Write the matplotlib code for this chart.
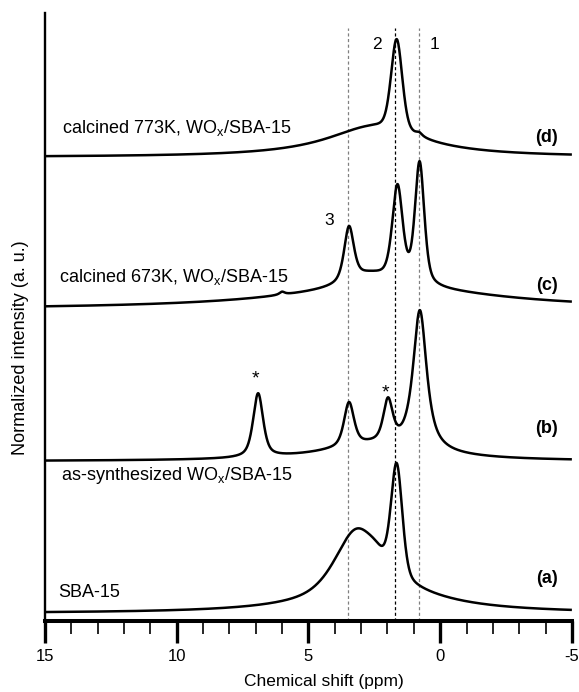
import numpy as np
import matplotlib
matplotlib.use("Agg")
import matplotlib.pyplot as plt
from matplotlib.ticker import MultipleLocator

plt.rcParams['font.family'] = ['Liberation Sans', 'DejaVu Sans']

# Chemical-shift grid (ppm)
shift = np.linspace(15, -5, 2500)

# Peak parameters per spectrum: centre (ppm), height, FWHM (ppm), Lorentzian fraction
sba15_centers = [3.2, 1.65, 2.3, 2.45]
sba15_heights = [0.95, 1.81, 0.45, 0.1]
sba15_widths = [1.9, 0.5, 5.0, 0.9]
sba15_lfrac = [0.6, 0.3, 1.0, 1.0]
sba15_offset = 0.13

synth_centers = [6.91, 3.46, 1.98, 0.77, 2.5]
synth_heights = [1.05, 0.72, 0.68, 2.3, 0.25]
synth_widths = [0.45, 0.45, 0.42, 0.62, 5.0]
synth_lfrac = [0.6, 0.6, 0.6, 0.85, 1.0]
synth_offset = 2.63

c673_centers = [6.0, 3.46, 1.62, 0.78, 2.0, 2.7]
c673_heights = [0.05, 0.9, 1.55, 2.0, 0.35, 0.2]
c673_widths = [0.25, 0.44, 0.47, 0.42, 10.0, 2.0]
c673_lfrac = [1.0, 0.6, 0.5, 0.5, 1.0, 1.0]
c673_offset = 5.13

c773_centers = [1.65, 2.5, 0.8]
c773_heights = [1.5, 0.5, 0.06]
c773_widths = [0.5, 4.5, 0.3]
c773_lfrac = [0.3, 1.0, 1.0]
c773_offset = 7.63

# Reference lines for resonances 3, 2 and 1
ref_lines = [3.5, 1.7, 0.8]
ref_colors = ['#808080', '#000000', '#808080']


def spectrum(centers, heights, widths, lfrac, offset):
    y = np.full_like(shift, offset)
    for c, h, w, eta in zip(centers, heights, widths, lfrac):
        lor = 1 / (1 + ((shift - c) / (w / 2)) ** 2)
        gau = np.exp(-4 * np.log(2) * ((shift - c) / w) ** 2)
        y += h * (eta * lor + (1 - eta) * gau)
    return y


fig = plt.figure(figsize=(5.79, 6.92), dpi=100)
ax = fig.add_axes([0.0777, 0.1023, 0.910, 0.879])

ax.vlines(ref_lines, 0, 9.75, colors=ref_colors, lw=0.9,
          linestyles=[(0, (2.5, 2))], zorder=1)

for params in [(sba15_centers, sba15_heights, sba15_widths, sba15_lfrac, sba15_offset),
               (synth_centers, synth_heights, synth_widths, synth_lfrac, synth_offset),
               (c673_centers, c673_heights, c673_widths, c673_lfrac, c673_offset),
               (c773_centers, c773_heights, c773_widths, c773_lfrac, c773_offset)]:
    ax.plot(shift, spectrum(*params), color='black', lw=1.8, zorder=3,
            solid_capstyle='butt')

ax.set_xlim(15, -5)
ax.set_ylim(0, 10)

fs = 13
ax.text(14.35, 8.03, 'calcined 773K, WO$_\\mathregular{x}$/SBA-15', fontsize=fs, va='baseline')
ax.text(14.45, 5.58, 'calcined 673K, WO$_\\mathregular{x}$/SBA-15', fontsize=fs, va='baseline')
ax.text(14.4, 2.32, 'as-synthesized WO$_\\mathregular{x}$/SBA-15', fontsize=fs, va='baseline')
ax.text(14.5, 0.39, 'SBA-15', fontsize=fs, va='baseline')

for lbl, yv in [('(d)', 7.88), ('(c)', 5.45), ('(b)', 3.09), ('(a)', 0.62)]:
    ax.text(-4.45, yv, lbl, fontsize=13, fontweight='bold', ha='right', va='baseline')

ax.text(4.22, 6.51, '3', fontsize=12.5, ha='center', va='baseline')
ax.text(2.4, 9.41, '2', fontsize=12.5, ha='center', va='baseline')
ax.text(0.23, 9.41, '1', fontsize=12.5, ha='center', va='baseline')
ax.text(7.0, 3.91, '*', fontsize=14, ha='center', va='baseline')
ax.text(2.09, 3.68, '*', fontsize=14, ha='center', va='baseline')

for s in ['top', 'right']:
    ax.spines[s].set_visible(False)
ax.spines['left'].set_linewidth(1.7)
ax.spines['bottom'].set_linewidth(2.9)
ax.set_yticks([])
ax.xaxis.set_major_locator(MultipleLocator(5))
ax.xaxis.set_minor_locator(MultipleLocator(1))
ax.tick_params(axis='x', which='major', direction='out', length=16, width=2.4,
               labelsize=12, pad=4)
ax.tick_params(axis='x', which='minor', direction='out', length=9.5, width=1.2)
ax.set_xticks([15, 10, 5, 0, -5])
ax.set_xticklabels(['15', '10', '5', '0', '-5'])

ax.set_xlabel('Chemical shift (ppm)', fontsize=12.5)
ax.set_ylabel('Normalized intensity (a. u.)', fontsize=13)
ax.xaxis.set_label_coords(0.53, -0.087)
ax.yaxis.set_label_coords(-0.030, 0.449)

fig.savefig('out.png', dpi=100)
